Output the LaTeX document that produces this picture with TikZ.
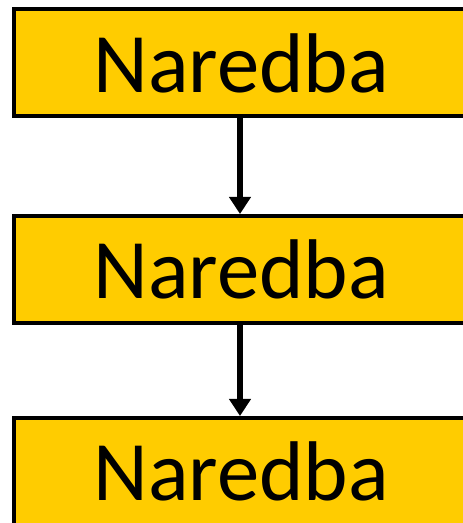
\documentclass[tikz,border=0pt]{standalone}
\usepackage{fontspec}
\setmainfont{Carlito}
\usetikzlibrary{arrows.meta}
\definecolor{boxyellow}{HTML}{FFCC00}
\begin{document}
\begin{tikzpicture}[x=1bp,y=1bp,
  stepbox/.style={draw=black, line width=4bp, fill=boxyellow,
    minimum width=454bp, minimum height=107bp, inner sep=0pt,
    font=\fontsize{85}{100}\selectfont},
  flow/.style={draw=black, line width=6bp,
    -{Triangle[width=21bp,length=17bp]}}]
\useasboundingbox (0,0) rectangle (463,523);
% three stacked statement boxes
\node[stepbox] (b1) at (241,460) {Naredba};
\node[stepbox] (b2) at (241,253.5) {Naredba};
\node[stepbox] (b3) at (241,51.5) {Naredba};
% control flow between them
\draw[flow] (b1.south -| 240,0) -- (b2.north -| 240,0);
\draw[flow] (b2.south -| 240,0) -- (b3.north -| 240,0);
\end{tikzpicture}
\end{document}
